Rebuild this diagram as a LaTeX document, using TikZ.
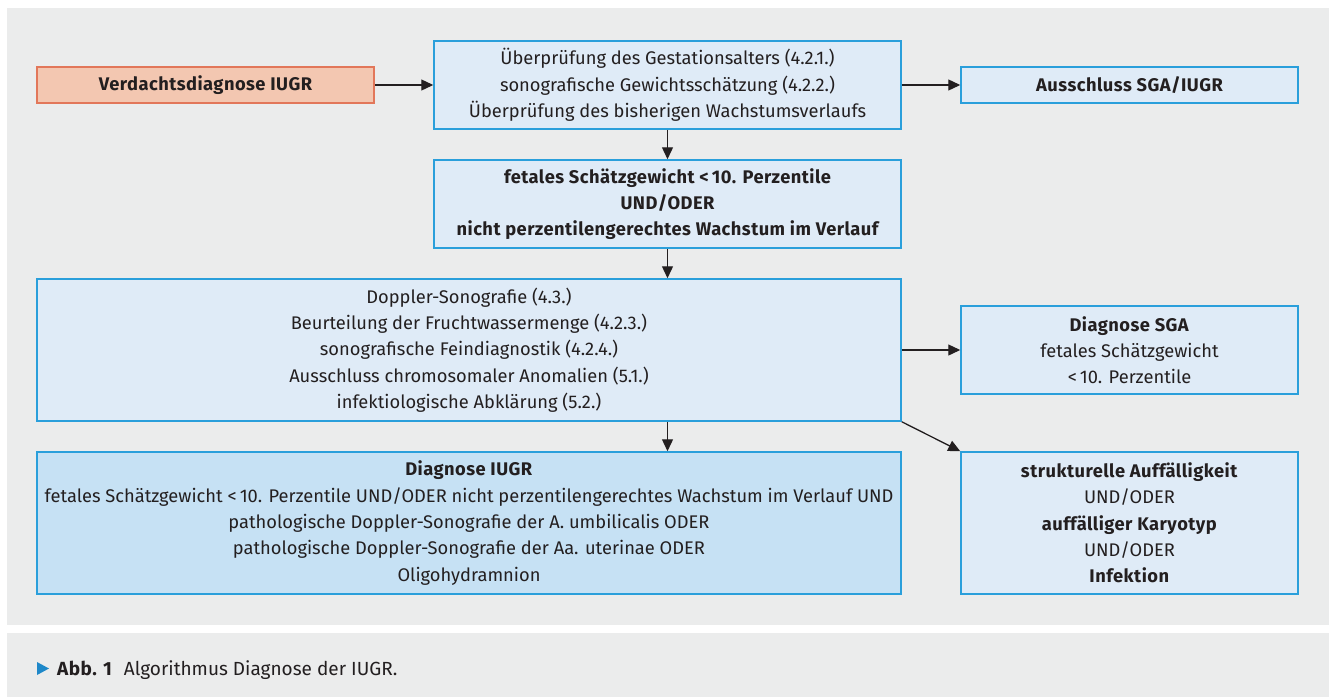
\documentclass[tikz,border=0pt]{standalone}
\usepackage{fontspec}
\setmainfont{Fira Sans}[BoldFeatures={LetterSpace=2.5}]
\usetikzlibrary{arrows.meta}
\definecolor{bgc}{HTML}{EBECEC}
\definecolor{lb}{HTML}{DFEBF7}
\definecolor{db}{HTML}{C6E1F4}
\definecolor{bord}{HTML}{2A9FDB}
\definecolor{sal}{HTML}{F3C7B1}
\definecolor{salb}{HTML}{E2775A}
\definecolor{txt}{HTML}{231F20}
\definecolor{tri}{HTML}{1E88C9}
\begin{document}
\begin{tikzpicture}[x=1pt,y=-1pt,
  box/.style={draw=bord, fill=lb, line width=1.5pt, align=center, inner sep=0pt, text=txt,
    font=\fontsize{18.3}{26.3}\selectfont},
  arr/.style={draw=txt, line width=1.3pt, -{Triangle[length=12pt,width=11pt]}}]
\useasboundingbox (0,0) rectangle (1333,697);
\fill[bgc] (7,8) rectangle (1329,625);
\fill[bgc] (7,633) rectangle (1329,697);

\node[box, draw=salb, fill=sal, minimum width=337pt, minimum height=36pt] (v) at (205.5,85)
  {\bfseries Verdachtsdiagnose IUGR};
\node[box, minimum width=467pt, minimum height=88pt] (a) at (667.5,85)
  {Überprüfung des Gestationsalters (4.2.1.)\\sonografische Gewichtsschätzung (4.2.2.)\\Überprüfung des bisherigen Wachstumsverlaufs};
\node[box, minimum width=337pt, minimum height=36pt] (aus) at (1129.5,85)
  {\bfseries Ausschluss SGA/IUGR};
\node[box, minimum width=467pt, minimum height=88pt, font=\fontsize{18.3}{26.3}\selectfont\bfseries] (b) at (667.5,204)
  {fetales Schätzgewicht <\,10. Perzentile\\UND/ODER\\nicht perzentilengerechtes Wachstum im Verlauf};
\node[box, minimum width=864pt, minimum height=142pt] (c) at (469,350)
  {Doppler-Sonografie (4.3.)\\Beurteilung der Fruchtwassermenge (4.2.3.)\\sonografische Feindiagnostik (4.2.4.)\\Ausschluss chromosomaler Anomalien (5.1.)\\infektiologische Abklärung (5.2.)};
\node[box, minimum width=337pt, minimum height=88pt] (sga) at (1129.5,350)
  {\textbf{Diagnose SGA}\\fetales Schätzgewicht\\<\,10. Perzentile};
\node[box, fill=db, minimum width=864pt, minimum height=142pt] (iugr) at (469,523)
  {\textbf{Diagnose IUGR}\\fetales Schätzgewicht <\,10. Perzentile UND/ODER nicht perzentilengerechtes Wachstum im Verlauf UND\\pathologische Doppler-Sonografie der A. umbilicalis ODER\\pathologische Doppler-Sonografie der Aa. uterinae ODER\\Oligohydramnion};
\node[box, minimum width=337pt, minimum height=142pt] (st) at (1129.5,523)
  {\textbf{strukturelle Auffälligkeit}\\UND/ODER\\\textbf{auffälliger Karyotyp}\\UND/ODER\\\textbf{Infektion}};

\draw[arr] (v) -- (a);
\draw[arr] (a) -- (aus);
\draw[arr] (a) -- (b);
\draw[arr] (b) -- (b |- c.north);
\draw[arr] (c) -- (sga);
\draw[arr] (c.south -| b) -- (iugr.north -| b);
\draw[arr] (c.south east) -- (st.north west);

\fill[tri] (37,662) -- (49,668.5) -- (37,675) -- cycle;
\node[anchor=base west, inner sep=0pt, text=txt, font=\fontsize{19}{22}\selectfont] (cap) at (57,675)
  {\textbf{Abb.\,\,1}\hspace{0.6em}Algorithmus Diagnose der IUGR.};
\end{tikzpicture}
\end{document}
